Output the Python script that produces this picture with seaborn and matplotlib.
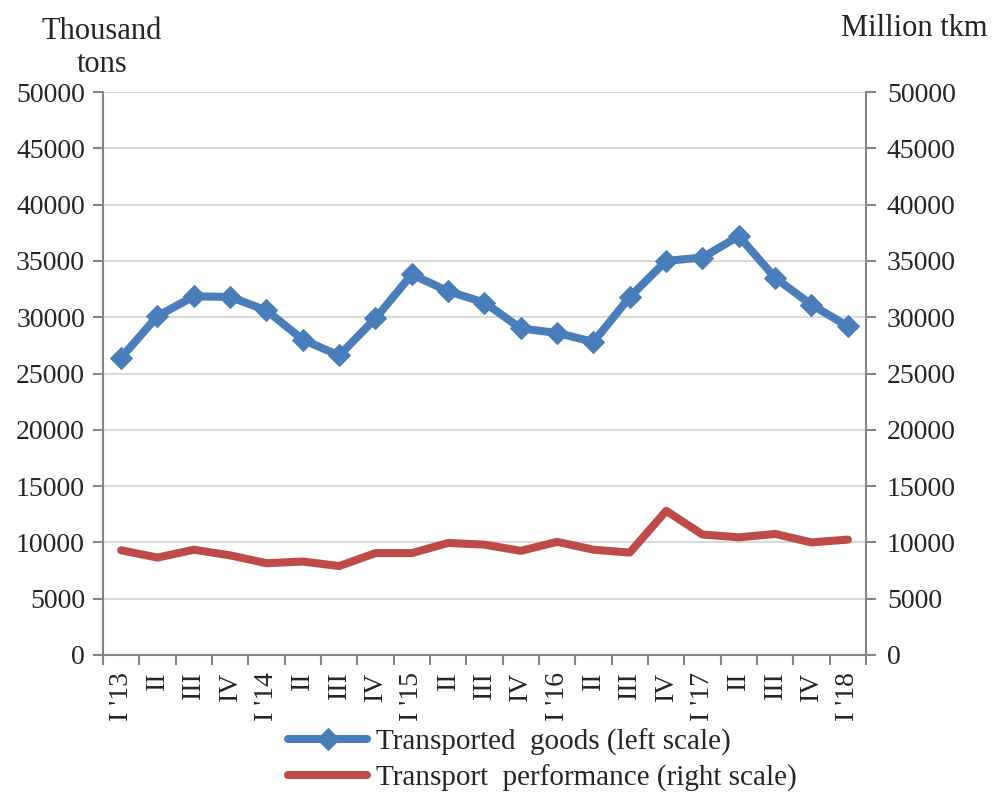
import numpy as np
import pandas as pd
import matplotlib.pyplot as plt
import seaborn as sns

quarters = ["I '13", "II", "III", "IV", "I '14", "II", "III", "IV", "I '15", "II", "III", "IV",
            "I '16", "II", "III", "IV", "I '17", "II", "III", "IV", "I '18"]
goods = [26400, 30100, 31850, 31800, 30600, 28000, 26600, 29900, 33800, 32300, 31300, 29000,
         28600, 27800, 31800, 35000, 35300, 37200, 33500, 31100, 29200]
performance = [9300, 8650, 9350, 8850, 8150, 8300, 7900, 9050, 9050, 9950, 9800, 9250,
               10050, 9350, 9100, 12800, 10700, 10450, 10750, 10000, 10250]

BLUE = "#4a7ebb"
RED = "#be4b48"
AXIS = "#868686"

sns.set_theme(style="white")
plt.rcParams["font.family"] = ["Liberation Serif", "DejaVu Serif"]

df = pd.DataFrame({"pos": np.arange(len(quarters)), "goods": goods, "perf": performance})

fig = plt.figure(figsize=(9.95, 7.94), dpi=100)
ax = fig.add_axes([103 / 995, 1 - 655 / 794, (866 - 103) / 995, (655 - 92) / 794])
ax2 = ax.twinx()

sns.lineplot(data=df, x="pos", y="perf", ax=ax2, color=RED, linewidth=5.8,
             label="Transport  performance (right scale)", legend=False)
sns.lineplot(data=df, x="pos", y="goods", ax=ax, color=BLUE, linewidth=5.8,
             marker="D", markersize=11, markeredgecolor=BLUE,
             label="Transported  goods (left scale)", legend=False)
ax.set_zorder(ax2.get_zorder() + 1)
ax.patch.set_visible(False)

for a in (ax, ax2):
    a.set_ylim(0, 50000)
    a.set_yticks(range(0, 50001, 5000))
    a.set_xlim(-0.5, len(quarters) - 0.5)
    a.set_xlabel("")
    a.set_ylabel("")
    for s in a.spines.values():
        s.set_visible(False)

ax2.yaxis.grid(True, color="#d9d9d9", linewidth=1.5)
ax2.set_axisbelow(True)
ax.spines["left"].set_visible(True)
ax.spines["bottom"].set_visible(True)
ax2.spines["right"].set_visible(True)
for s in (ax.spines["left"], ax.spines["bottom"], ax2.spines["right"]):
    s.set_color(AXIS)
    s.set_linewidth(1.5)

ax.tick_params(axis="y", left=True, length=7, width=1.5, color=AXIS, labelsize=20, pad=6)
ax2.tick_params(axis="y", right=True, length=7, width=1.5, color=AXIS, labelsize=20, pad=8)

ax.set_xticks(df["pos"])
ax.set_xticklabels(quarters, rotation=90, fontsize=20)
ax.set_xticks(np.arange(-0.5, len(quarters), 1), minor=True)
ax.tick_params(axis="x", which="major", length=0, pad=12)
ax.tick_params(axis="x", which="minor", bottom=True, length=7, width=1.5, color=AXIS)

fig.text(102 / 995, 1 - 48 / 794, "Thousand\ntons", ha="center", va="center", fontsize=22,
         linespacing=1.2)
fig.text(914 / 995, 1 - 28 / 794, "Million tkm", ha="center", va="center", fontsize=22)

h1, l1 = ax.get_legend_handles_labels()
h2, l2 = ax2.get_legend_handles_labels()
fig.legend(h1 + h2, l1 + l2, loc="center", bbox_to_anchor=(0.545, 1 - 760 / 794),
           frameon=False, fontsize=21, ncol=1, handlelength=2.7, labelspacing=0.3,
           handletextpad=0.3)

fig.savefig("out.png", dpi=100)
